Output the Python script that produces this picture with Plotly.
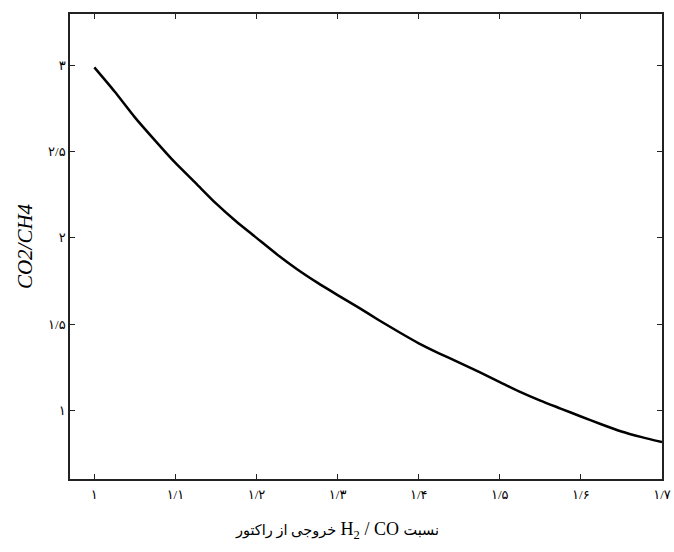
import plotly.graph_objects as go

# H2/CO ratio at the reactor outlet and the resulting CO2/CH4 ratio
h2_co = [1.000, 1.025, 1.050, 1.075, 1.100, 1.125, 1.150, 1.175, 1.200, 1.225,
         1.250, 1.275, 1.300, 1.325, 1.350, 1.375, 1.400, 1.425, 1.450, 1.475,
         1.500, 1.525, 1.550, 1.575, 1.600, 1.625, 1.650, 1.675, 1.700]
co2_ch4 = [2.99, 2.85, 2.70, 2.565, 2.435, 2.318, 2.200, 2.095, 2.000, 1.905,
           1.818, 1.740, 1.668, 1.598, 1.525, 1.455, 1.388, 1.330, 1.276, 1.220,
           1.163, 1.106, 1.055, 1.009, 0.963, 0.918, 0.876, 0.843, 0.814]

x_tickvals = [1.0, 1.1, 1.2, 1.3, 1.4, 1.5, 1.6, 1.7]
x_ticktext = ["۱", "۱/۱", "۱/۲", "۱/۳", "۱/۴", "۱/۵", "۱/۶", "۱/۷"]
y_tickvals = [1.0, 1.5, 2.0, 2.5, 3.0]
y_ticktext = ["۱", "۱/۵", "۲", "۲/۵", "۳"]

# Persian words in a smaller size, the chemical formula in the Latin serif size
x_title = ("\u202b<span style='font-size:14.5px'>نسبت</span> H<sub>2</sub> / CO "
           "<span style='font-size:14.5px'>خروجی از راکتور</span>\u202c")
y_title = "<i>CO2/CH4</i>"

serif = "Liberation Serif, Times New Roman, DejaVu Sans, serif"

fig = go.Figure(
    go.Scatter(
        x=h2_co, y=co2_ch4, mode="lines",
        line=dict(color="black", width=2.5, shape="spline", smoothing=0.6),
        showlegend=False,
    )
)

axis_common = dict(
    showgrid=False, zeroline=False, automargin=False,
    showline=True, linecolor="#222", linewidth=1.5,
    mirror="ticks", ticks="inside", ticklen=5, tickwidth=1, tickcolor="#222",
    tickfont=dict(family=serif, size=13, color="black"),
)

fig.update_layout(
    width=674, height=552,
    margin=dict(l=70, r=12, t=14, b=73),
    paper_bgcolor="white", plot_bgcolor="white",
    xaxis=dict(
        range=[0.97, 1.7], tickvals=x_tickvals, ticktext=x_ticktext,
        ticklabelstandoff=3,
        **axis_common,
    ),
    yaxis=dict(
        range=[0.6, 3.3], tickvals=y_tickvals, ticktext=y_ticktext,
        title=dict(text=y_title, font=dict(family=serif, size=21, color="black"), standoff=10),
        **axis_common,
    ),
    annotations=[
        dict(
            text=x_title, xref="paper", yref="paper",
            x=0.451, y=-0.11, xanchor="center", yanchor="middle",
            showarrow=False,
            font=dict(family=serif, size=18, color="black"),
        )
    ],
)

fig.write_html("out.html")
